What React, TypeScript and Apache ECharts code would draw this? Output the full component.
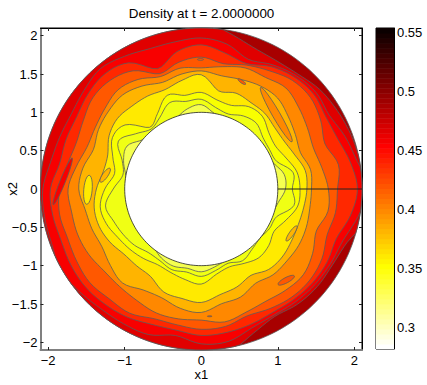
import React, { useEffect, useRef } from "react";
import * as echarts from "echarts";

const title = "Density at t = 2.0000000";
const xTicks = [-2, -1, 0, 1, 2];
const yTicks = [-2, -1.5, -1, -0.5, 0, 0.5, 1, 1.5, 2];
const barTicks = [0.3, 0.35, 0.4, 0.45, 0.5, 0.55];
const AX = 2.1;
const R_IN = 1;
const BAR_MIN = 0.2814;
const BAR_MAX = 0.5534;

// contour radius at every 10 degrees, 0 .. 350, counter-clockwise from +x1
const P = [1.10,1.10,1.0,.98,.98,.98,.98,.98,1.0,1.10,1.06,.98,.98,.98,1.0,1.12,1.08,1.0,.98,.98,.98,.98,.98,.98,1.04,1.07,1.05,1.08,1.03,.98,.98,.98,.98,.98,.98,1.02];
const Y1 = [1.19,1.22,1.05,1.03,1.05,1.12,1.10,1.04,1.08,1.17,1.16,1.20,1.08,1.02,1.12,1.25,1.10,1.04,1.15,1.27,1.22,1.18,1.14,1.08,1.08,1.12,1.10,1.14,1.08,1.03,1.08,1.03,1.0,1.03,1.05,1.23];
const Y2 = [1.29,1.27,1.18,1.12,1.15,1.24,1.24,1.16,1.18,1.26,1.24,1.30,1.14,1.05,1.30,1.34,1.23,1.15,1.26,1.34,1.32,1.26,1.22,1.18,1.14,1.16,1.20,1.24,1.13,1.08,1.12,1.17,1.15,1.10,1.18,1.28];
const Y3 = [1.38,1.38,1.30,1.25,1.25,1.29,1.30,1.33,1.30,1.49,1.44,1.38,1.40,1.41,1.43,1.39,1.30,1.30,1.37,1.42,1.42,1.38,1.32,1.31,1.32,1.43,1.45,1.48,1.40,1.36,1.30,1.37,1.38,1.36,1.35,1.36];
const G = [1.44,1.45,1.38,1.42,1.48,1.55,1.55,1.52,1.50,1.54,1.52,1.48,1.55,1.60,1.58,1.55,1.50,1.57,1.60,1.54,1.52,1.50,1.55,1.60,1.52,1.51,1.58,1.61,1.52,1.50,1.42,1.46,1.46,1.47,1.46,1.44];
const O = [1.66,1.60,1.56,1.60,1.66,1.72,1.68,1.68,1.62,1.58,1.60,1.56,1.65,1.69,1.64,1.60,1.59,1.66,1.74,1.72,1.72,1.70,1.66,1.66,1.68,1.72,1.72,1.71,1.76,1.71,1.69,1.72,1.74,1.68,1.60,1.68];
const R1 = [1.78,1.82,1.72,1.80,1.86,1.85,1.78,1.72,1.66,1.72,1.68,1.60,1.78,1.85,1.85,1.78,1.74,1.78,1.85,1.88,1.86,1.88,1.90,1.87,1.87,1.80,1.80,1.83,1.82,1.76,1.80,1.84,1.85,1.82,1.75,1.78];
const R2 = [2.04,1.98,1.90,1.88,1.92,1.90,1.84,1.74,1.80,1.88,1.82,1.67,1.90,1.96,1.93,1.88,1.88,1.88,1.97,1.97,1.95,1.97,1.98,1.96,1.93,1.88,1.87,1.91,1.90,1.88,1.86,1.88,1.90,1.90,1.88,1.98];
const R3 = [2.2,2.07,2.0,1.93,1.96,1.93,1.87,1.80,1.92,1.97,1.95,1.95,2.0,2.05,2.0,1.96,1.97,2.0,2.07,2.08,2.08,2.12,2.08,2.04,2.03,2.02,1.94,2.02,2.02,1.93,1.90,1.92,1.94,1.95,1.97,2.08];
const R4 = [2.2,2.11,2.08,2.05,2.02,1.96,1.94,1.97,2.07,2.2,2.2,2.2,2.2,2.2,2.2,2.2,2.2,2.15,2.2,2.2,2.2,2.2,2.2,2.2,2.2,2.2,2.2,2.2,2.15,2.0,1.92,1.96,1.98,1.98,2.03,2.2];

const contours = [R4, R3, R2, R1, O, G, Y3, Y2, Y1, P];
const bandColors = ["#E00000", "#F80000", "#FF2800", "#FF5800", "#FF8800", "#FFB400", "#FFEA00", "#F8FF00", "#F0FF14", "#F5FF50"];
const outerColor = "#A80000";

// closed islands: centre x1, centre x2, half length, half width, tilt (deg), fill
const islandX = [-1.255, -1.48, -0.01, 0.53, 0.98, 1.18, 1.11, 0.11, -1.81];
const islandY = [0.18, -0.01, 1.69, 1.40, 0.97, -0.58, -1.19, -1.66, 0.10];
const islandA = [0.11, 0.19, 0.04, 0.06, 0.41, 0.12, 0.12, 0.03, 0.33];
const islandB = [0.035, 0.055, 0.012, 0.018, 0.05, 0.03, 0.035, 0.006, 0.035];
const islandTilt = [55, 85, 0, -35, -60, 55, 28, 0, 68];
const islandFill = ["#FFB400", "#FFEA00", "#FF5800", "#FF5800", "#FF8800", "#FFB400", "#FF5800", "#FF5800", "#F80000"];

function hotFlip(t: number) {
  const i = Math.min(63, Math.floor(t * 64));
  const k = 63 - i; // index in hot(64)
  const r = Math.min(1, (k + 1) / 24);
  const g = k < 24 ? 0 : Math.min(1, (k - 23) / 24);
  const b = k < 48 ? 0 : (k - 47) / 16;
  return `rgb(${Math.round(r * 255)},${Math.round(g * 255)},${Math.round(b * 255)})`;
}

function sample(rs: number[], deg: number) {
  const n = rs.length;
  const u = ((deg / 360) * n + n) % n;
  const i = Math.floor(u);
  const f = u - i;
  const p0 = rs[(i - 1 + n) % n], p1 = rs[i], p2 = rs[(i + 1) % n], p3 = rs[(i + 2) % n];
  return p1 + 0.5 * f * (p2 - p0 + f * (2 * p0 - 5 * p1 + 4 * p2 - p3 + f * (3 * (p1 - p2) + p3 - p0)));
}

const STROKE = "#5c5c5c";
const LINE_W = 0.8;
const FONT = "Liberation Sans";
const TICK_FS = 13;
const minusFmt = (v: number) => String(v).replace("-", "\u2212");

export default function App() {
  const ref = useRef<HTMLDivElement>(null);
  useEffect(() => {
    const chart = echarts.init(ref.current!, undefined, { renderer: "svg" });
    const ringPts = (api: any, r: number) => {
      const pts: number[][] = [];
      for (let a = 0; a < 360; a += 2) {
        const rad = (a * Math.PI) / 180;
        pts.push(api.coord([r * Math.cos(rad), r * Math.sin(rad)]));
      }
      return pts;
    };
    const contourItems = contours.map((_, i) => [i]);
    const islandItems = islandX.map((_, i) => [i]);
    const barColors = Array.from({ length: 64 }, (_, i) => [i]);
    const axisCommon = {
      type: "value" as const,
      min: -AX,
      max: AX,
      splitLine: { show: false },
    };
    chart.setOption({
      animation: false,
      backgroundColor: "#fff",
      graphic: [
        {
          type: "text", x: 201.5, y: 13,
          style: { text: title, fontFamily: FONT, fontSize: 13.4, fill: "#000", textAlign: "center", textVerticalAlign: "middle" },
        },
      ],
      grid: [
        { left: 40.5, top: 28, width: 321.5, height: 322, show: true, borderColor: "#000", borderWidth: 1, backgroundColor: "transparent", outerBoundsMode: "none" },
        { left: 376, top: 28, width: 18, height: 321, show: true, borderColor: "#000", borderWidth: 1, backgroundColor: "transparent", outerBoundsMode: "none" },
      ],
      xAxis: [
        {
          ...axisCommon, gridIndex: 0, position: "bottom",
          name: "x1", nameLocation: "middle", nameGap: 18, nameMoveOverlap: false,
          nameTextStyle: { fontFamily: FONT, fontSize: 13, color: "#000" },
          axisLine: { onZero: false, lineStyle: { color: "#808080", width: 2 } },
          axisTick: { inside: true, length: 3, customValues: xTicks, lineStyle: { color: "#222" } },
          axisLabel: { customValues: xTicks, formatter: minusFmt, fontFamily: FONT, fontSize: TICK_FS, color: "#000", margin: 4 },
        },
        {
          ...axisCommon, gridIndex: 0, position: "top",
          axisLine: { onZero: false, lineStyle: { color: "#000" } },
          axisTick: { inside: true, length: 3, customValues: xTicks, lineStyle: { color: "#222" } },
          axisLabel: { show: false },
        },
        {
          type: "value", gridIndex: 1, min: 0, max: 1, show: false,
        },
      ],
      yAxis: [
        {
          ...axisCommon, gridIndex: 0, position: "left",
          name: "x2", nameLocation: "middle", nameGap: 22, nameMoveOverlap: false,
          nameTextStyle: { fontFamily: FONT, fontSize: 13, color: "#000" },
          axisLine: { onZero: false, lineStyle: { color: "#808080", width: 2 } },
          axisTick: { inside: true, length: 3, customValues: yTicks, lineStyle: { color: "#222" } },
          axisLabel: { customValues: yTicks, formatter: minusFmt, fontFamily: FONT, fontSize: TICK_FS, color: "#000", margin: 3 },
        },
        {
          ...axisCommon, gridIndex: 0, position: "right",
          axisLine: { onZero: false, lineStyle: { color: "#000" } },
          axisTick: { inside: true, length: 3, customValues: yTicks, lineStyle: { color: "#222" } },
          axisLabel: { show: false },
        },
        {
          type: "value", gridIndex: 1, position: "right", min: BAR_MIN, max: BAR_MAX,
          splitLine: { show: false },
          axisLine: { onZero: false, lineStyle: { color: "#000" } },
          axisTick: { inside: true, length: 3, customValues: barTicks, lineStyle: { color: "#333" } },
          axisLabel: { customValues: barTicks, fontFamily: FONT, fontSize: TICK_FS, color: "#000", margin: 3 },
        },
      ],
      series: [
        {
          type: "custom", xAxisIndex: 0, yAxisIndex: 0, clip: false, silent: true, z: 1,
          data: [[0]],
          renderItem: (_p: any, api: any) => ({
            type: "polygon",
            shape: { points: ringPts(api, AX) },
            style: { fill: outerColor, stroke: STROKE, lineWidth: LINE_W },
          }),
        },
        {
          type: "custom", xAxisIndex: 0, yAxisIndex: 0, clip: false, silent: true, z: 2,
          data: contourItems,
          renderItem: (_p: any, api: any) => {
            const i = api.value(0);
            const pts: number[][] = [];
            for (let a = 0; a < 360; a += 2) {
              const r = Math.min(AX, sample(contours[i], a));
              const rad = (a * Math.PI) / 180;
              pts.push(api.coord([r * Math.cos(rad), r * Math.sin(rad)]));
            }
            return {
              type: "polygon",
              shape: { points: pts },
              style: { fill: bandColors[i], stroke: STROKE, lineWidth: LINE_W },
            };
          },
        },
        {
          type: "custom", xAxisIndex: 0, yAxisIndex: 0, clip: false, silent: true, z: 3,
          data: islandItems,
          renderItem: (_p: any, api: any) => {
            const i = api.value(0);
            const t = (islandTilt[i] * Math.PI) / 180;
            const pts: number[][] = [];
            for (let a = 0; a < 360; a += 15) {
              const rad = (a * Math.PI) / 180;
              const u = islandA[i] * Math.cos(rad), v = islandB[i] * Math.sin(rad);
              pts.push(api.coord([islandX[i] + u * Math.cos(t) - v * Math.sin(t), islandY[i] + u * Math.sin(t) + v * Math.cos(t)]));
            }
            return {
              type: "polygon",
              shape: { points: pts },
              style: { fill: islandFill[i], stroke: STROKE, lineWidth: LINE_W },
            };
          },
        },
        {
          type: "custom", xAxisIndex: 0, yAxisIndex: 0, clip: false, silent: true, z: 4,
          data: [[0]],
          renderItem: (_p: any, api: any) => ({
            type: "polygon",
            shape: { points: ringPts(api, R_IN) },
            style: { fill: "#fff", stroke: "#222", lineWidth: LINE_W },
          }),
        },
        {
          type: "line", xAxisIndex: 0, yAxisIndex: 0, silent: true, z: 5, symbol: "none",
          lineStyle: { color: "#222", width: 1 },
          data: [[R_IN, 0], [AX, 0]],
        },
        {
          type: "custom", xAxisIndex: 2, yAxisIndex: 2, clip: true, silent: true, z: 1,
          data: barColors,
          renderItem: (_p: any, api: any) => {
            const i = api.value(0);
            const v0 = BAR_MIN + ((BAR_MAX - BAR_MIN) * i) / 64;
            const v1 = BAR_MIN + ((BAR_MAX - BAR_MIN) * (i + 1)) / 64;
            const a = api.coord([0, v1]);
            const b = api.coord([1, v0]);
            return {
              type: "rect",
              shape: { x: a[0], y: a[1], width: b[0] - a[0], height: b[1] - a[1] + 0.5 },
              style: { fill: hotFlip((i + 0.5) / 64) },
            };
          },
        },
      ],
    });
    return () => chart.dispose();
  }, []);
  return <div ref={ref} style={{ width: 427, height: 385, position: "absolute", left: 0, top: 0 }} />;
}
